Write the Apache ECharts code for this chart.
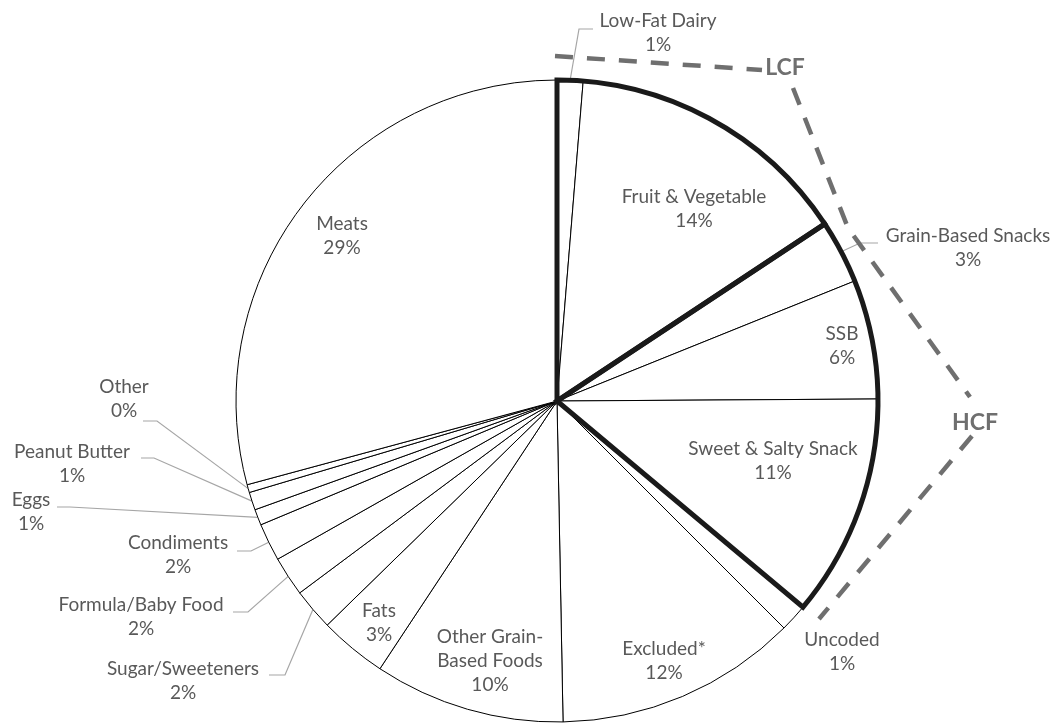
<!DOCTYPE html>
<html><head><meta charset="utf-8">
<script src="https://cdn.jsdelivr.net/npm/echarts@6/dist/echarts.min.js"></script>
<style>html,body{margin:0;padding:0;background:#fff}#chart{width:1058px;height:723px}</style>
</head><body><div id="chart"></div>
<script>
// ---- data (clockwise from 12 o'clock) ----
const categories = ['Low-Fat Dairy','Fruit & Vegetable','Grain-Based Snacks','SSB','Sweet & Salty Snack','Uncoded','Excluded*','Other Grain-Based Foods','Fats','Sugar/Sweeteners','Formula/Baby Food','Condiments','Eggs','Peanut Butter','Other','Meats'];
const shares = [1.3,14.4,3.2,6.0,11.2,1.4,12.2,9.6,3.4,2.1,2.0,1.9,0.8,0.9,0.4,29.2];
const lcfGroup = ['Low-Fat Dairy','Fruit & Vegetable'];
const hcfGroup = ['Grain-Based Snacks','SSB','Sweet & Salty Snack'];
const groupLabels = ['LCF','HCF'];

// ---- layout / style (offsets from the pie centre, px) ----
const PIE = {cx: 557, cy: 401, r: 321};
const TEXT = '#595959', LEADER = '#a6a6a6', BRACKET = '#6f6f6f';
const labelPlace = {
  'Low-Fat Dairy':        {c:[101,-368], line:[[22,-372],[36,-372]]},
  'Fruit & Vegetable':    {c:[137,-192]},
  'Grain-Based Snacks':   {c:[411,-153], line:[[303,-158],[321,-158]]},
  'SSB':                  {c:[285,-55]},
  'Sweet & Salty Snack':  {c:[216,60]},
  'Uncoded':              {c:[285,251]},
  'Excluded*':            {c:[107,260]},
  'Other Grain-Based Foods': {c:[-67,260], wrap:'Other Grain-\nBased Foods'},
  'Fats':                 {c:[-178,222]},
  'Sugar/Sweeteners':     {c:[-374,280], line:[[-272,274],[-288,274]]},
  'Formula/Baby Food':    {c:[-416,216], line:[[-309,211],[-324,211]]},
  'Condiments':           {c:[-379,154], line:[[-306,150],[-320,150]]},
  'Eggs':                 {c:[-526,111], line:[[-487,106],[-500,106]]},
  'Peanut Butter':        {c:[-485,63],  line:[[-403,57],[-416,57]]},
  'Other':                {c:[-433,-2],  line:[[-400,20],[-414,20]]},
  'Meats':                {c:[-215,-165]}
};
const brackets = {
  lines: [
    [[-2,-345],[205,-331]],
    [[236,-313],[291,-173],[413,-4]],
    [[415,35],[262,218]]
  ],
  text: [[228,-333],[418,22]]
};

const total = shares.reduce((a,b)=>a+b,0);
const sumOf = names => names.reduce((s,n)=>s+shares[categories.indexOf(n)],0);
const lcf = sumOf(lcfGroup), hcf = sumOf(hcfGroup), rest = total - lcf - hcf;
const P = o => [PIE.cx + o[0], PIE.cy + o[1]];

function edgePoint(i){
  let cum = 0; for (let k=0;k<i;k++) cum += shares[k];
  const a = (cum + shares[i]/2)/total*2*Math.PI;
  return [PIE.cx + PIE.r*Math.sin(a), PIE.cy - PIE.r*Math.cos(a)];
}

const chart = echarts.init(document.getElementById('chart'), null, {renderer:'canvas'});
const graphic = [];
brackets.lines.forEach(seg => graphic.push({
  type:'polyline', silent:true, z:50,
  shape:{points: seg.map(P)},
  style:{stroke:BRACKET, lineWidth:4.5, lineDash:[18,14], fill:null}
}));
brackets.text.forEach((t,i) => { const p = P(t); graphic.push({
  type:'text', silent:true, z:50, x:p[0], y:p[1],
  style:{text:groupLabels[i], fontFamily:'Lato', fontWeight:'bold', fontSize:23, fill:BRACKET, align:'center', verticalAlign:'middle'}
});});

chart.setOption({
  animation:false,
  backgroundColor:'#fff',
  graphic: graphic,
  series:[{
    type:'pie', center:[PIE.cx,PIE.cy], radius:PIE.r, startAngle:90, clockwise:true,
    avoidLabelOverlap:false, silent:true, emphasis:{disabled:true},
    itemStyle:{color:'#fff', borderColor:'#000', borderWidth:1},
    label:{show:true, position:'outside', color:TEXT, fontFamily:'Lato', fontSize:19, lineHeight:24,
      formatter: p => (labelPlace[p.name].wrap || p.name) + '\n' + Math.round(p.value/total*100) + '%'},
    labelLine:{show:true, length:10, length2:10, lineStyle:{color:LEADER, width:1.2}},
    labelLayout: function(p){
      const pl = labelPlace[categories[p.dataIndex]];
      const c = P(pl.c);
      const out = {x:c[0], y:c[1], align:'center', verticalAlign:'middle'};
      if (pl.line) out.labelLinePoints = [edgePoint(p.dataIndex)].concat(pl.line.map(P));
      return out;
    },
    data: categories.map((n,i)=>({name:n, value:shares[i], labelLine:{show:!!labelPlace[n].line}}))
  },{
    type:'pie', center:[PIE.cx,PIE.cy], radius:PIE.r, startAngle:90, clockwise:true,
    silent:true, emphasis:{disabled:true}, label:{show:false}, labelLine:{show:false},
    itemStyle:{color:'rgba(0,0,0,0)', borderColor:'#1a1a1a', borderWidth:5, borderJoin:'miter'},
    data:[{name:'LCF', value:lcf},{name:'HCF', value:hcf},{name:'rest', value:rest, itemStyle:{borderWidth:0}}]
  }]
});
</script></body></html>
